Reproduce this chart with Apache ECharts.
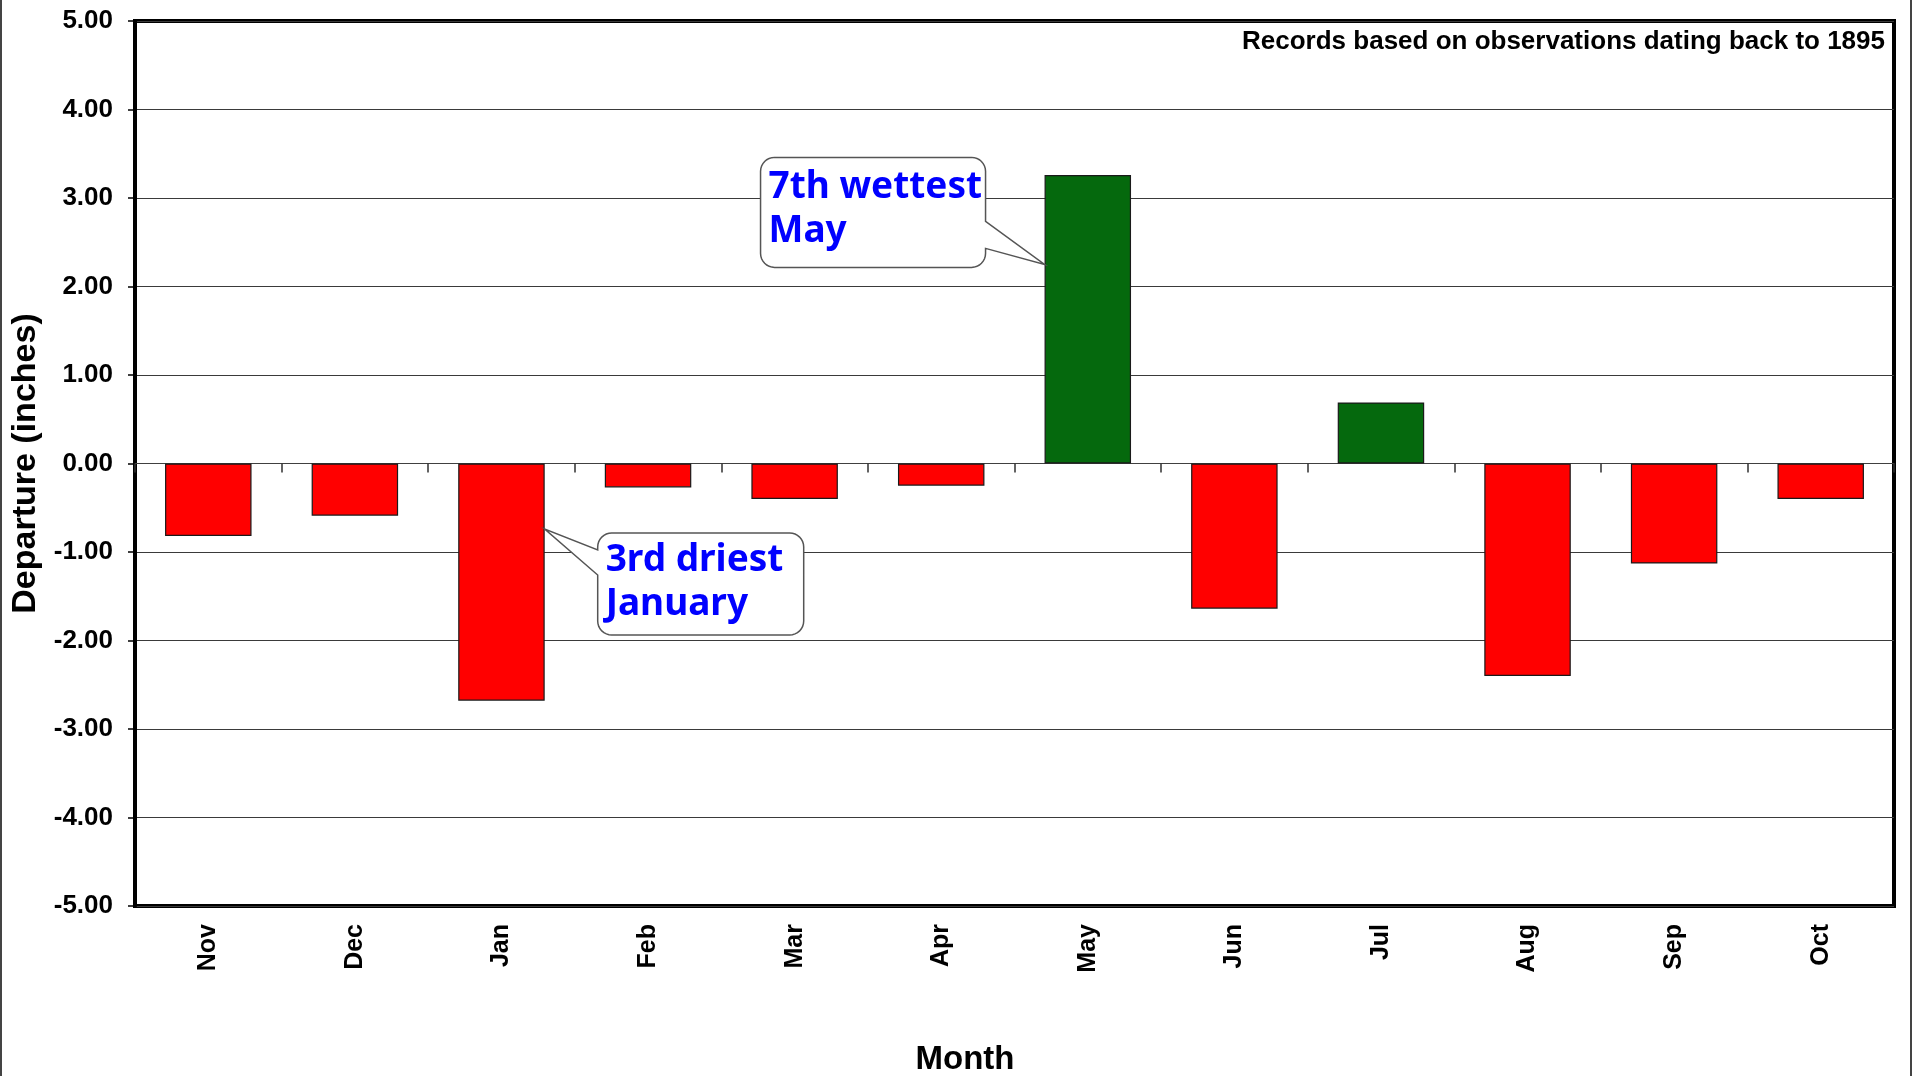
<!DOCTYPE html>
<html><head><meta charset="utf-8">
<script src="https://cdn.jsdelivr.net/npm/echarts@6/dist/echarts.min.js"></script>
<style>html,body{margin:0;padding:0;background:#fff;overflow:hidden}#c{width:1913px;height:1076px}</style>
</head><body><div id="c"></div><script>
// ---- data ----
const categories = ['Nov','Dec','Jan','Feb','Mar','Apr','May','Jun','Jul','Aug','Sep','Oct'];
const departures = [-0.82, -0.59, -2.68, -0.27, -0.40, -0.25, 3.26, -1.64, 0.69, -2.40, -1.13, -0.40];
const yMin = -5, yMax = 5, yStep = 1;
const yAxisTitle = 'Departure (inches)';
const xAxisTitle = 'Month';
const noteText = 'Records based on observations dating back to 1895';
const calloutTexts = ['7th wettest\nMay', '3rd driest\nJanuary'];
const calloutIndex = [6, 2];
const calloutAnchorValue = [2.25, -0.74];

const chart = echarts.init(document.getElementById('c'), null, {renderer: 'canvas'});
const GL = 135, GT = 21, GW = 1759, GH = 885;

chart.setOption({
  animation: false,
  backgroundColor: '#fff',
  grid: {left: GL, top: GT, width: GW, height: GH, show: true, borderColor: '#000', borderWidth: 4,
    backgroundColor: 'transparent', containLabel: false, outerBoundsMode: 'none'},
  xAxis: [{
    type: 'category', data: categories, position: 'bottom',
    axisLine: {show: false, onZero: false}, axisTick: {show: false},
    axisLabel: {interval: 0, rotate: 90, margin: 18, color: '#000', fontFamily: 'Liberation Sans', fontWeight: 'bold', fontSize: 25},
    splitLine: {show: false}
  }, {
    type: 'category', data: categories, position: 'bottom',
    axisLine: {show: true, onZero: true, lineStyle: {color: '#404040', width: 1}},
    axisTick: {show: true, length: 9, lineStyle: {color: '#303030', width: 1.5}},
    axisLabel: {show: false}, splitLine: {show: false}
  }],
  yAxis: {
    type: 'value', min: yMin, max: yMax, interval: yStep,
    name: yAxisTitle, nameLocation: 'middle', nameRotate: 90, nameGap: 89,
    nameTextStyle: {color: '#000', fontFamily: 'Liberation Sans', fontWeight: 'bold', fontSize: 34},
    axisLine: {show: true, lineStyle: {color: '#000', width: 4}},
    axisTick: {show: true, length: 7, lineStyle: {color: '#000', width: 1.5}},
    axisLabel: {margin: 22, color: '#000', fontFamily: 'Liberation Sans', fontWeight: 'bold', fontSize: 26,
      formatter: v => v.toFixed(2)},
    splitLine: {show: true, lineStyle: {color: '#3a3a3a', width: 1.2}}
  },
  series: [{
    type: 'bar', xAxisIndex: 0, data: departures, barCategoryGap: '41%',
    itemStyle: {
      color: p => p.value >= 0 ? '#05690D' : '#FF0000',
      borderColor: '#1a1a1a', borderWidth: 1.2
    }
  }]
});

// ---- callouts anchored to bars ----
const barData = chart.getModel().getSeriesByIndex(0).getData();
function arc(pts, cx, cy, r, a0, a1) {
  const n = 8;
  for (let i = 0; i <= n; i++) {
    const a = a0 + (a1 - a0) * i / n;
    pts.push([cx + r * Math.cos(a), cy + r * Math.sin(a)]);
  }
}
function calloutPoints(x0, y0, w, h, r, side, tx, ty, ya, yb) {
  const x1 = x0 + w, y1 = y0 + h, P = Math.PI, pts = [];
  arc(pts, x0 + r, y0 + r, r, P, 1.5 * P);          // top-left
  arc(pts, x1 - r, y0 + r, r, 1.5 * P, 2 * P);      // top-right
  if (side === 'right') { pts.push([x1, ya], [tx, ty], [x1, yb]); }
  arc(pts, x1 - r, y1 - r, r, 0, 0.5 * P);          // bottom-right
  arc(pts, x0 + r, y1 - r, r, 0.5 * P, P);          // bottom-left
  if (side === 'left') { pts.push([x0, yb], [tx, ty], [x0, ya]); }
  return pts;
}
const gfx = [
  {type: 'text', id: 'note', x: 1885, y: 42, z: 50,
    style: {text: noteText, fill: '#000', font: 'bold 26px "Liberation Sans"', textAlign: 'right', textVerticalAlign: 'middle'}},
  {type: 'text', id: 'xname', x: 965, y: 1060, z: 50,
    style: {text: xAxisTitle, fill: '#000', font: 'bold 33px "Liberation Sans"', textAlign: 'center', textVerticalAlign: 'middle'}},
  {type: 'line', id: 'fl', z: 50, shape: {x1: 1, y1: 0, x2: 1, y2: 1076}, style: {stroke: '#444', lineWidth: 2}},
  {type: 'line', id: 'fr', z: 50, shape: {x1: 1911, y1: 0, x2: 1911, y2: 1076}, style: {stroke: '#444', lineWidth: 2}}
];
calloutIndex.forEach((idx, k) => {
  const lay = barData.getItemLayout(idx);
  const ty = chart.convertToPixel({yAxisIndex: 0}, calloutAnchorValue[k]);
  let x0, y0, w, h, side, tx, ya, yb;
  if (departures[idx] >= 0) {
    tx = lay.x; w = 225; h = 110; x0 = tx - 284; y0 = ty - 107; side = 'right';
    ya = ty - 43; yb = ty - 16;
  } else {
    tx = lay.x + lay.width; w = 206; h = 102; x0 = tx + 53; y0 = ty + 4; side = 'left';
    ya = y0 + 17; yb = y0 + 42;
  }
  gfx.push({type: 'polygon', id: 'cbox' + k, z: 100, shape: {points: calloutPoints(x0, y0, w, h, 14, side, tx, ty, ya, yb)},
    style: {fill: '#fff', stroke: '#555', lineWidth: 1.5}});
  gfx.push({type: 'text', id: 'ctext' + k, z: 101, x: x0 + 8, y: y0 + (side === 'right' ? 8 : 5),
    style: {text: calloutTexts[k], fill: '#0000FF', font: 'bold 37px "Noto Sans"', lineHeight: 44, textAlign: 'left', textVerticalAlign: 'top'}});
});
chart.setOption({graphic: {elements: gfx}});
</script></body></html>
